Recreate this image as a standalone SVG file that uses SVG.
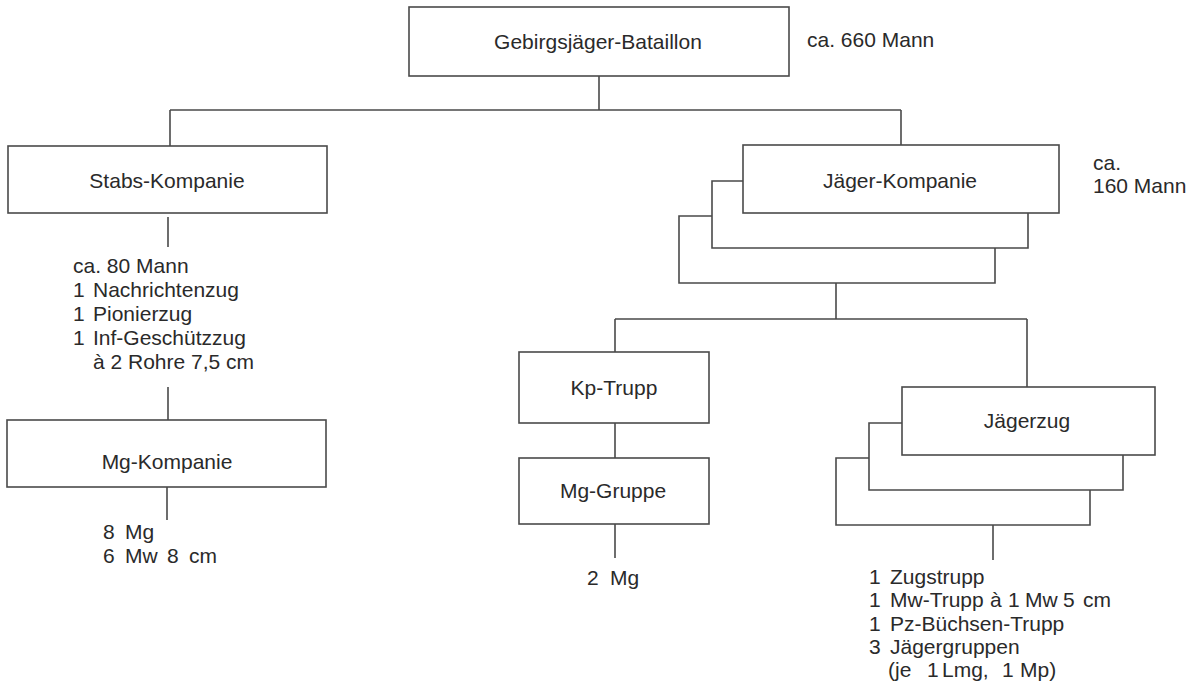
<svg xmlns="http://www.w3.org/2000/svg" width="1194" height="691" viewBox="0 0 1194 691">
<style>
.bx{fill:none;stroke:#4a4a4a;stroke-width:1.6}
.ln{fill:none;stroke:#4a4a4a;stroke-width:1.6}
text{font-family:"Liberation Sans",Arial,Helvetica,sans-serif;font-size:21px;fill:#2a2a2a}
.c{text-anchor:middle}
</style>
<rect width="1194" height="691" fill="#ffffff"/>
<g id="connectors">
<path class="ln" d="M599,76 V110 M170,110 H901 M170,110 V146 M901,110 V145"/>
<path class="ln" d="M168,217 V247 M168,387 V420 M167,487 V520"/>
<path class="ln" d="M836,283 V319 M615,319 H1027 M615,319 V352 M1027,319 V387"/>
<path class="ln" d="M615,423 V458 M615,524 V558"/>
<path class="ln" d="M993,525 V560"/>
</g>
<g id="bataillon">
<rect class="bx" x="409" y="7" width="380" height="69"/>
<text class="c" x="598" y="49">Gebirgsjäger-Bataillon</text>
<text x="807" y="47">ca. 660 Mann</text>
</g>
<g id="stabs-kompanie">
<rect class="bx" x="8" y="146" width="319" height="67"/>
<text class="c" x="167" y="188">Stabs-Kompanie</text>
<text x="73" y="273">ca. 80 Mann</text>
<text y="297"><tspan x="73">1</tspan><tspan x="93">Nachrichtenzug</tspan></text>
<text y="321"><tspan x="73">1</tspan><tspan x="93">Pionierzug</tspan></text>
<text y="345"><tspan x="73">1</tspan><tspan x="93">Inf-Geschützzug</tspan></text>
<text x="93" y="369">à 2 Rohre 7,5 cm</text>
</g>
<g id="mg-kompanie">
<rect class="bx" x="7" y="420" width="319" height="67"/>
<text class="c" x="167" y="469">Mg-Kompanie</text>
<text y="539"><tspan x="103">8</tspan><tspan x="125">Mg</tspan></text>
<text y="563"><tspan x="103">6</tspan><tspan x="125">Mw</tspan><tspan x="167">8</tspan><tspan x="189">cm</tspan></text>
</g>
<g id="jaeger-kompanie">
<path class="bx" d="M712,216 H679 V283 H995 V248"/>
<path class="bx" d="M743,181 H712 V248 H1028 V213"/>
<rect class="bx" x="743" y="145" width="316" height="68"/>
<text class="c" x="900" y="188">Jäger-Kompanie</text>
<text x="1093" y="170">ca.</text>
<text x="1093" y="193">160 Mann</text>
</g>
<g id="kp-trupp">
<rect class="bx" x="519" y="352" width="190" height="71"/>
<text class="c" x="614" y="395">Kp-Trupp</text>
</g>
<g id="mg-gruppe">
<rect class="bx" x="519" y="458" width="190" height="66"/>
<text class="c" x="613" y="498">Mg-Gruppe</text>
<text y="585"><tspan x="587">2</tspan><tspan x="610">Mg</tspan></text>
</g>
<g id="jaegerzug">
<path class="bx" d="M869,458 H836 V525 H1090 V490"/>
<path class="bx" d="M902,423 H869 V490 H1123 V455"/>
<rect class="bx" x="902" y="387" width="253" height="68"/>
<text class="c" x="1027" y="428">Jägerzug</text>
<text y="584"><tspan x="869">1</tspan><tspan x="890">Zugstrupp</tspan></text>
<text y="607"><tspan x="869">1</tspan><tspan x="890">Mw-Trupp</tspan><tspan x="990">à</tspan><tspan x="1008">1</tspan><tspan x="1025">Mw</tspan><tspan x="1063">5</tspan><tspan x="1083">cm</tspan></text>
<text y="631"><tspan x="869">1</tspan><tspan x="890">Pz-Büchsen-Trupp</tspan></text>
<text y="654"><tspan x="869">3</tspan><tspan x="890">Jägergruppen</tspan></text>
<text y="677"><tspan x="888">(je</tspan><tspan x="927">1</tspan><tspan x="942">Lmg,</tspan><tspan x="1002">1</tspan><tspan x="1020">Mp)</tspan></text>
</g>
</svg>
